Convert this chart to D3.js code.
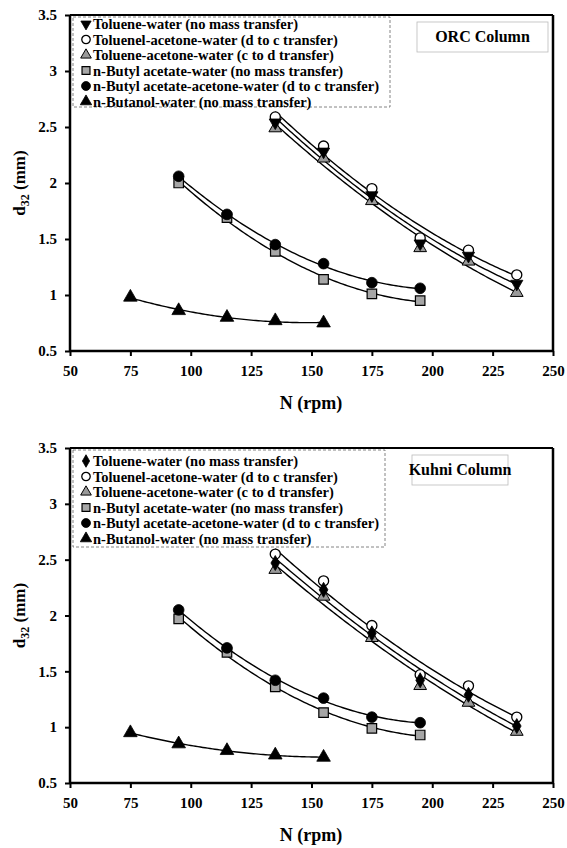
<!DOCTYPE html>
<html><head><meta charset="utf-8">
<script src="https://cdn.jsdelivr.net/npm/d3@7"></script>
<style>body{margin:0;background:#fff}svg{display:block}
svg text{font-family:'Liberation Serif',Tinos,'Times New Roman',Times,serif !important;font-weight:bold}</style>
</head><body>
<script>
// ---- data ----
const rpmToluene = [135,155,175,195,215,235];
const rpmButyl = [95,115,135,155,175,195];
const rpmButanol = [75,95,115,135,155];
const xTicks = [50,75,100,125,150,175,200,225,250];
const yTicks = [0.5,1,1.5,2,2.5,3,3.5];
const legendLabels = [
  "Toluene-water (no mass transfer)",
  "Toluenel-acetone-water (d to c transfer)",
  "Toluene-acetone-water (c to d transfer)",
  "n-Butyl acetate-water (no mass transfer)",
  "n-Butyl acetate-acetone-water (d to c transfer)",
  "n-Butanol-water (no mass transfer)"
];
// ORC column
const orcTolWater = [2.54,2.28,1.89,1.46,1.35,1.10];
const orcTolAcDC  = [2.59,2.33,1.95,1.51,1.40,1.18];
const orcTolAcCD  = [2.49,2.22,1.84,1.42,1.30,1.02];
const orcButWater = [2.00,1.69,1.39,1.14,1.01,0.95];
const orcButAcDC  = [2.06,1.72,1.45,1.28,1.11,1.06];
const orcButanol  = [0.98,0.86,0.80,0.77,0.75];
// Kuhni column
const kuTolWater = [2.47,2.23,1.84,1.42,1.29,1.01];
const kuTolAcDC  = [2.55,2.31,1.91,1.47,1.37,1.09];
const kuTolAcCD  = [2.41,2.17,1.80,1.37,1.22,0.96];
const kuButWater = [1.97,1.67,1.36,1.13,0.99,0.93];
const kuButAcDC  = [2.05,1.71,1.42,1.26,1.09,1.04];
const kuButanol  = [0.95,0.85,0.79,0.75,0.73];

const W = 567, H = 848;
const FONT = "'Liberation Serif',Tinos,'Times New Roman',Times,serif";
const svg = d3.select("body").append("svg").attr("width", W).attr("height", H)
  .attr("font-family", FONT).attr("font-weight","bold");

function quadFit(xs, ys){
  let n=xs.length, s=[0,0,0,0,0], t=[0,0,0];
  for(let i=0;i<n;i++){const x=xs[i],y=ys[i];
    for(let k=0;k<5;k++) s[k]+=Math.pow(x,k);
    for(let k=0;k<3;k++) t[k]+=y*Math.pow(x,k);}
  const M=[[s[0],s[1],s[2],t[0]],[s[1],s[2],s[3],t[1]],[s[2],s[3],s[4],t[2]]];
  for(let i=0;i<3;i++){let p=M[i][i];
    for(let j=i;j<4;j++) M[i][j]/=p;
    for(let r=0;r<3;r++){ if(r!==i){const f=M[r][i]; for(let j=i;j<4;j++) M[r][j]-=f*M[i][j];}}}
  const a=M[0][3],b=M[1][3],c=M[2][3];
  return x=>a+b*x+c*x*x;
}

function drawChart(cfg){
  const g = svg.append("g");
  const x = d3.scaleLinear().domain([50,250]).range([70,553]);
  const y = d3.scaleLinear().domain([0.5,3.5]).range([cfg.bottom, cfg.top]);

  g.append("line").attr("x1",70).attr("x2",553).attr("y1",cfg.top).attr("y2",cfg.top).attr("stroke","#000").attr("stroke-width",2);
  g.append("line").attr("x1",553).attr("x2",553).attr("y1",cfg.top).attr("y2",cfg.bottom).attr("stroke","#000").attr("stroke-width",2.5);

  g.append("rect").attr("x",73).attr("y",cfg.top+2).attr("width",cfg.legW).attr("height",cfg.legH)
    .attr("fill","none").attr("stroke","#666").attr("stroke-width",0.8).attr("stroke-dasharray","3,2");

  g.append("rect").attr("x",cfg.boxX).attr("y",cfg.top+7).attr("width",cfg.boxW).attr("height",30)
    .attr("fill","#fff").attr("stroke","#bbb").attr("stroke-width",0.8);
  g.append("text").attr("x",cfg.boxX+cfg.boxW/2).attr("y",cfg.top+27).attr("text-anchor","middle")
    .attr("font-size",16).text(cfg.title);

  const xAxis = d3.axisBottom(x).tickValues(xTicks).tickSize(5).tickPadding(9).tickFormat(d3.format("d"));
  const ax = g.append("g").attr("transform",`translate(0,${cfg.bottom})`).call(xAxis);
  const yAxis = d3.axisLeft(y).tickValues(yTicks).tickSize(5).tickPadding(8).tickFormat(d=>String(d));
  const ay = g.append("g").attr("transform",`translate(70,0)`).call(yAxis);
  [ax,ay].forEach(a=>{
    a.attr("font-family",FONT).attr("font-weight","bold");
    a.select(".domain").attr("stroke","#000").attr("stroke-width",2.5);
    a.selectAll(".tick line").attr("stroke","#000").attr("stroke-width",2);
    a.selectAll(".tick text").attr("font-size",15).attr("fill","#000");
  });
  ax.select(".domain").attr("d",`M70,0H553`);
  ay.select(".domain").attr("d",`M0,${cfg.top}V${cfg.bottom}`);

  g.append("text").attr("x",311).attr("y",cfg.bottom+58).attr("text-anchor","middle").attr("font-size",18).text("N (rpm)");
  const yt = g.append("text").attr("transform",`translate(25,${(cfg.top+cfg.bottom)/2}) rotate(-90)`).attr("text-anchor","middle").attr("font-size",17);
  yt.append("tspan").text("d");
  yt.append("tspan").attr("font-size",12).attr("dy",4).text("32");
  yt.append("tspan").attr("dy",-4).text(" (mm)");

  const series = cfg.series;
  const line = d3.line().x(d=>x(d[0])).y(d=>y(d[1]));
  series.forEach(s=>{
    const f = quadFit(s.x, s.v);
    const xs = d3.range(d3.min(s.x), d3.max(s.x)+0.5, 1);
    g.append("path").attr("d", line(xs.map(v=>[v,f(v)]))).attr("fill","none").attr("stroke","#000").attr("stroke-width",1.4);
  });
  cfg.drawOrder.forEach(i=>{
    const s = series[i];
    g.selectAll(null).data(s.x.map((v,j)=>[v,s.v[j]])).join("path")
      .attr("d", d3.symbol().type(s.sym).size(s.size))
      .attr("transform", d=>`translate(${x(d[0])},${y(d[1])}) rotate(${s.rot||0})`)
      .attr("fill", s.fill).attr("stroke","#000").attr("stroke-width",s.sw);
  });

  legendLabels.forEach((lab,i)=>{
    const s = series[i];
    const ly = cfg.legY + i*15.5;
    g.append("path").attr("d", d3.symbol().type(s.sym).size(s.size*0.7))
      .attr("transform",`translate(86,${ly}) rotate(${s.rot||0})`)
      .attr("fill", s.fill).attr("stroke","#000").attr("stroke-width",s.sw);
    g.append("text").attr("x",93).attr("y",ly+5).attr("font-size",14.5).text(lab);
  });
}

function mkSeries(v, firstSym, firstRot){
  return [
    {x:rpmToluene, v:v[0], sym:firstSym, rot:firstRot, size:65, fill:"#000", sw:0.8},
    {x:rpmToluene, v:v[1], sym:d3.symbolCircle, size:80, fill:"#fff", sw:1.3},
    {x:rpmToluene, v:v[2], sym:d3.symbolTriangle, size:70, fill:"#999", sw:1},
    {x:rpmButyl, v:v[3], sym:d3.symbolSquare, size:90, fill:"#a6a6a6", sw:1.2},
    {x:rpmButyl, v:v[4], sym:d3.symbolCircle, size:90, fill:"#000", sw:0.8},
    {x:rpmButanol, v:v[5], sym:d3.symbolTriangle, size:80, fill:"#000", sw:0.8}
  ];
}

drawChart({top:15, bottom:351, title:"ORC Column", boxX:417, boxW:131, legW:317, legH:90, legY:24,
  series: mkSeries([orcTolWater,orcTolAcDC,orcTolAcCD,orcButWater,orcButAcDC,orcButanol], d3.symbolTriangle, 180),
  drawOrder:[3,4,5,2,1,0]});
drawChart({top:448, bottom:783, title:"Kuhni Column", boxX:412, boxW:96, legW:312, legH:97, legY:461,
  series: mkSeries([kuTolWater,kuTolAcDC,kuTolAcCD,kuButWater,kuButAcDC,kuButanol], d3.symbolDiamond, 0),
  drawOrder:[3,4,5,2,1,0]});
</script>
</body></html>
